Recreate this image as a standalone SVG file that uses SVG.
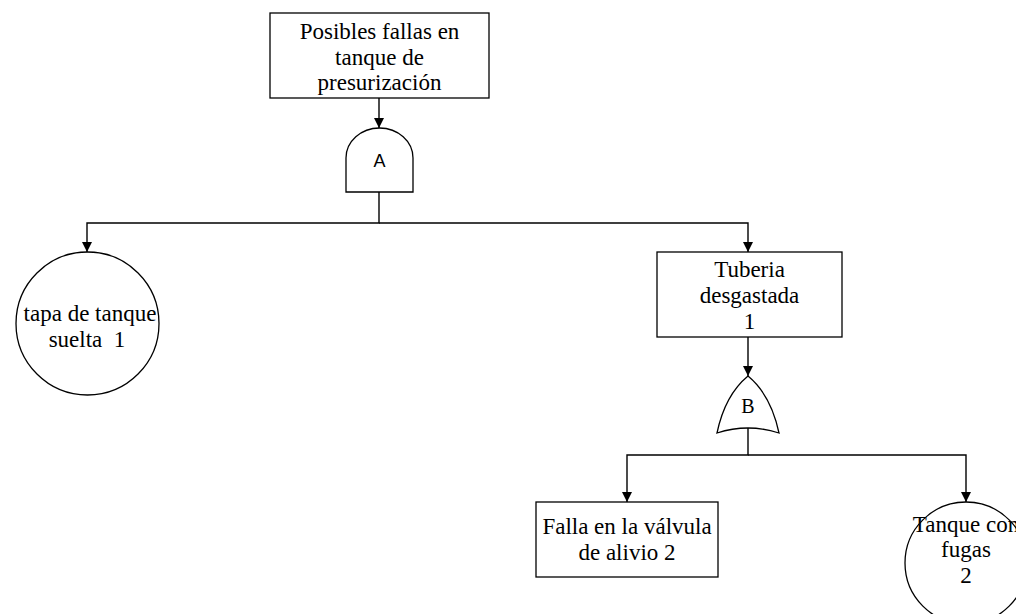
<svg xmlns="http://www.w3.org/2000/svg" width="1016" height="614" viewBox="0 0 1016 614">
<style>
.shape{fill:#fff;stroke:#000;stroke-width:1.3}
.conn{fill:none;stroke:#000;stroke-width:1.4}
.t{font-family:"Liberation Serif","Times New Roman",serif;font-size:23px;fill:#000;text-anchor:middle}
.g{font-family:"Liberation Serif","Times New Roman",serif;font-size:20px;fill:#000;text-anchor:middle}
.s{font-family:"Liberation Sans",Arial,sans-serif;font-size:18px;fill:#000;text-anchor:middle}
</style>
<defs>
<marker id="arr" viewBox="0 0 10 10" refX="10" refY="5" markerWidth="10" markerHeight="10" markerUnits="userSpaceOnUse" orient="auto"><path d="M0,0 L10,5 L0,10 z" fill="#000"/></marker>
</defs>
<rect width="1016" height="614" fill="#fff"/>
<g id="connectors">
<path class="conn" d="M379,98 V128" marker-end="url(#arr)"/>
<path class="conn" d="M379,192 V223 H87 V252" marker-end="url(#arr)"/>
<path class="conn" d="M379,223 H748 V252" marker-end="url(#arr)"/>
<path class="conn" d="M748,337 V376" marker-end="url(#arr)"/>
<path class="conn" d="M748,428 V455 H627 V502" marker-end="url(#arr)"/>
<path class="conn" d="M748,455 H966 V502" marker-end="url(#arr)"/>
</g>
<g id="top">
<rect class="shape" x="270" y="13" width="219" height="85"/>
<text class="t" x="379.5" y="38.5">Posibles fallas en</text>
<text class="t" x="379.5" y="64.5">tanque de</text>
<text class="t" x="379.5" y="90">presurización</text>
</g>
<g id="gateA">
<path class="shape" d="M346,192 V158 A33.5,30 0 0 1 413,158 V192 Z"/>
<text class="s" x="379.5" y="166.5">A</text>
</g>
<g id="tapa">
<circle class="shape" cx="87.5" cy="323.5" r="71.5"/>
<text class="t" x="90" y="321">tapa de tanque</text>
<text class="t" x="87" y="347" xml:space="preserve">suelta  1</text>
</g>
<g id="tuberia">
<rect class="shape" x="657" y="252" width="185" height="85"/>
<text class="t" x="749.5" y="277">Tuberia</text>
<text class="t" x="749.5" y="303">desgastada</text>
<text class="t" x="749.5" y="329">1</text>
</g>
<g id="gateB">
<path class="shape" d="M748,376 Q725,395 717,433 Q748,423 779,433 Q771,395 748,376 Z"/>
<text class="g" x="748" y="412.5">B</text>
</g>
<g id="falla">
<rect class="shape" x="536" y="502" width="182" height="75"/>
<text class="t" x="627" y="534">Falla en la válvula</text>
<text class="t" x="627" y="560">de alivio 2</text>
</g>
<g id="tanque">
<circle class="shape" cx="966" cy="563" r="61"/>
<text class="t" x="966" y="532">Tanque con</text>
<text class="t" x="966" y="557">fugas</text>
<text class="t" x="966" y="583">2</text>
</g>
</svg>
